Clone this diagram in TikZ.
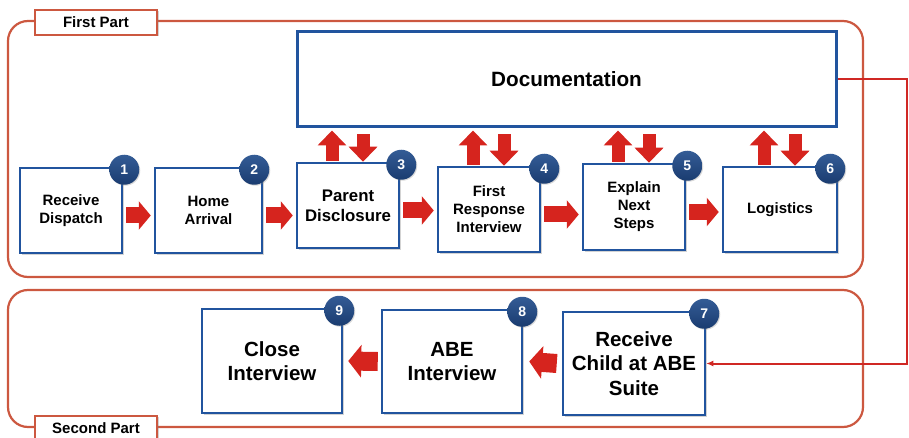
\documentclass[tikz,border=0pt]{standalone}
\usepackage{fontspec}
\setmainfont{Liberation Sans}
\usepackage{tikz}
\usetikzlibrary{arrows.meta}
\usetikzlibrary{calc}
\usetikzlibrary{shadows}
\definecolor{mblue}{RGB}{33, 84, 158}
\definecolor{mnavy}{RGB}{26, 60, 112}
\definecolor{mnavylight}{RGB}{52, 92, 150}
\definecolor{mred}{RGB}{214, 36, 30}
\definecolor{mframe}{RGB}{204, 88, 64}
\definecolor{mlink}{RGB}{208, 40, 36}
\tikzset{stepbox/.style = {draw=mblue, line width=2.5pt, fill=white, align=center,
                           inner sep=0, font=\bfseries\fontsize{15}{18}\selectfont,
                           drop shadow={shadow xshift=1.5pt, shadow yshift=-1.5pt, opacity=0.35}}}
\tikzset{bigbox/.style = {stepbox, font=\bfseries\fontsize{20.5}{24.5}\selectfont}}
\tikzset{badge/.style = {circle, inner sep=0, minimum size=30pt, text=white,
                         top color=mnavylight, bottom color=mnavy,
                         font=\bfseries\fontsize{14}{14}\selectfont,
                         drop shadow={shadow xshift=1pt, shadow yshift=-1pt, opacity=0.3}}}
\tikzset{frame/.style = {draw=mframe, line width=2.2pt, rounded corners=20pt}}
\tikzset{partlabel/.style = {draw=mframe, line width=2pt, fill=white, inner sep=0,
                             minimum width=122pt, minimum height=25pt,
                             font=\bfseries\fontsize{15}{15}\selectfont,
                             drop shadow={shadow xshift=1.5pt, shadow yshift=-1.5pt, opacity=0.35}}}
\tikzset{flow/.style = {mred, line width=16pt, -{Triangle[length=12pt, width=28pt]}}}
\tikzset{flowback/.style = {mred, line width=19pt, -{Triangle[length=13pt, width=32pt]}}}
\tikzset{updown/.style = {mred, line width=13pt, -{Triangle[length=15pt, width=28pt]}}}
\tikzset{link/.style = {mlink, line width=2pt, -{Latex[length=7pt, width=6pt]}}}

\begin{document}
\begin{tikzpicture}[x=1pt, y=-1pt]
      \useasboundingbox (0, 0) rectangle (909, 438);

      \draw [frame] (8, 21) rectangle (863, 277);
      \draw [frame] (8, 290) rectangle (863, 427);
      \node [partlabel] (first) at (96, 22.5) {First Part};
      \node [partlabel] (second) at (96, 428) {Second Part};

      \node [stepbox, minimum width=539pt, minimum height=95pt, line width=3pt,
             font=\bfseries\fontsize{20.7}{24}\selectfont] (doc) at (566.5, 79.5) {Documentation};

      \node [stepbox, minimum width=102pt, minimum height=85pt] (b1) at (71, 210.5) {Receive\\Dispatch};
      \node [stepbox, minimum width=107pt, minimum height=85pt] (b2) at (208.5, 210.5) {Home\\Arrival};
      \node [stepbox, minimum width=102pt, minimum height=85pt,
             font=\bfseries\fontsize{16.8}{20}\selectfont] (b3) at (348, 205.5) {Parent\\Disclosure};
      \node [stepbox, minimum width=102pt, minimum height=85pt] (b4) at (489, 209.5) {First\\Response\\Interview};
      \node [stepbox, minimum width=102pt, minimum height=86pt] (b5) at (634, 207) {Explain\\Next\\Steps};
      \node [stepbox, minimum width=114pt, minimum height=85pt] (b6) at (780, 209.5) {Logistics};

      \node [bigbox, minimum width=142pt, minimum height=103pt] (b7) at (634, 363.5) {Receive\\Child at ABE\\Suite};
      \node [bigbox, minimum width=140pt, minimum height=103pt] (b8) at (452, 361.5) {ABE\\Interview};
      \node [bigbox, minimum width=140pt, minimum height=104pt] (b9) at (272, 361) {Close\\Interview};

      \foreach \i/\dx in {1/1, 2/-9, 3/1, 4/3, 5/1, 6/-8, 7/-2, 8/-1, 9/-4} {
        \node [badge] (n\i) at ([shift={(\dx pt, -3pt)}]b\i.north east) {\i};
      }

      \foreach \a/\b in {b1/b2, b2/b3, b3/b4, b4/b5, b5/b6} {
        \draw [flow] ([shift={(3pt, -5pt)}]\a.east) coordinate (s) -- ($(s -| \b.west) + (-3, 0)$);
      }
      \draw [flowback] ([xshift=-5pt]b7.west) -- ([xshift=6pt]b8.east);
      \draw [flowback] ([xshift=-3pt]b8.west) -- ([xshift=5pt]b9.east);

      \foreach \b in {b3, b4, b5, b6} {
        \draw [updown] ([shift={(-16pt, 1pt)}]\b.north) coordinate (u) -- ($(u |- doc.south) + (0, 2)$);
        \draw [updown] ($([xshift=15pt]\b.north |- doc.south) + (0, 6)$) -- ([xshift=15pt]\b.north);
      }

      \draw [link] (doc.east) -- ++(69, 0) |- (b7.east);
    \end{tikzpicture}
\end{document}
